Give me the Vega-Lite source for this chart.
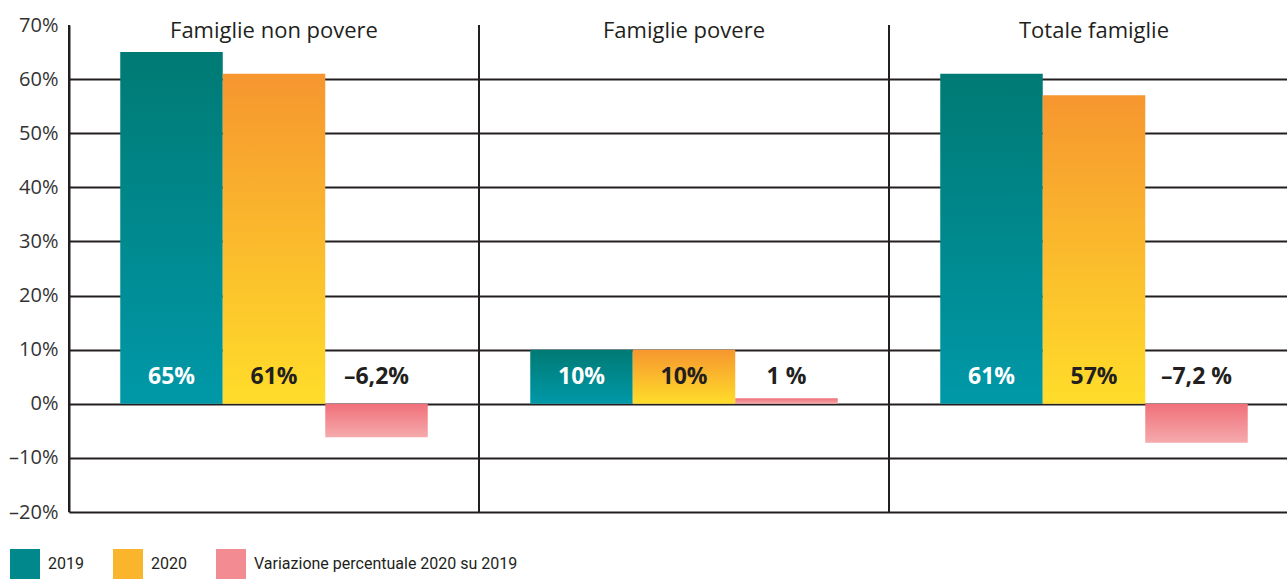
{
  "$schema": "https://vega.github.io/schema/vega-lite/v6.json",
  "width": 1218,
  "height": 487,
  "autosize": {"type": "none"},
  "padding": {"left": 69, "top": 25, "right": 0, "bottom": 69},
  "background": "white",
  "config": {"font": "Open Sans", "view": {"stroke": null}},
  "data": {
    "values": [
      {"gruppo": "Famiglie non povere", "serie": "2019", "valore": 65, "etichetta": "65%"},
      {"gruppo": "Famiglie non povere", "serie": "2020", "valore": 61, "etichetta": "61%"},
      {"gruppo": "Famiglie non povere", "serie": "Variazione percentuale 2020 su 2019", "valore": -6.2, "etichetta": "–6,2%"},
      {"gruppo": "Famiglie povere", "serie": "2019", "valore": 10, "etichetta": "10%"},
      {"gruppo": "Famiglie povere", "serie": "2020", "valore": 10, "etichetta": "10%"},
      {"gruppo": "Famiglie povere", "serie": "Variazione percentuale 2020 su 2019", "valore": 1, "etichetta": "1  %"},
      {"gruppo": "Totale famiglie", "serie": "2019", "valore": 61, "etichetta": "61%"},
      {"gruppo": "Totale famiglie", "serie": "2020", "valore": 57, "etichetta": "57%"},
      {"gruppo": "Totale famiglie", "serie": "Variazione percentuale 2020 su 2019", "valore": -7.2, "etichetta": "–7,2  %"}
    ]
  },
  "encoding": {
    "x": {
      "field": "gruppo",
      "type": "nominal",
      "sort": ["Famiglie non povere", "Famiglie povere", "Totale famiglie"],
      "scale": {"range": [0, 1230], "paddingInner": 0, "paddingOuter": 0},
      "axis": {
        "orient": "top",
        "title": null,
        "domain": false,
        "ticks": false,
        "tickSize": 0,
        "labelPadding": -12,
        "labelBaseline": "alphabetic",
        "labelFontSize": 22,
        "labelLimit": 0,
        "labelColor": "#231F20",
        "labelAngle": 0
      }
    }
  },
  "layer": [
    {
      "mark": {"type": "bar", "opacity": 0},
      "encoding": {
        "xOffset": {
          "field": "serie",
          "type": "nominal",
          "sort": ["2019", "2020", "Variazione percentuale 2020 su 2019"],
          "scale": {"paddingInner": 0, "paddingOuter": 0.5}
        },
        "y": {
          "field": "valore",
          "type": "quantitative",
          "scale": {"domain": [-20, 70], "nice": false},
          "axis": {
            "title": null,
            "values": [-20, -10, 0, 10, 20, 30, 40, 50, 60, 70],
            "labelExpr": "replace(datum.value + '%', '-', '–')",
            "labelFontSize": 20,
            "labelColor": "#333333",
            "labelPadding": 11,
            "ticks": false,
            "domainColor": "#231F20",
            "domainWidth": 2,
            "grid": true,
            "gridColor": "#231F20",
            "gridWidth": 2,
            "gridOpacity": {"condition": {"test": "datum.value === 70", "value": 0}, "value": 1}
          }
        },
        "fill": {
          "field": "serie",
          "type": "nominal",
          "scale": {
            "domain": ["2019", "2020", "Variazione percentuale 2020 su 2019"],
            "range": ["#00888C", "#FAB52D", "#F28C92"]
          },
          "legend": {
            "title": null,
            "orient": "none",
            "legendX": -59,
            "legendY": 524,
            "direction": "horizontal",
            "symbolType": "square",
            "symbolSize": 900,
            "symbolStrokeWidth": 0,
            "symbolOpacity": 1,
            "labelFont": "Roboto",
            "labelFontSize": 16,
            "labelLimit": 0,
            "labelColor": "#231F20",
            "labelOffset": 8,
            "columnPadding": 29,
            "padding": 0
          }
        }
      }
    },
    {
      "mark": {"type": "bar"},
      "encoding": {
        "xOffset": {
          "field": "serie",
          "type": "nominal",
          "sort": ["2019", "2020", "Variazione percentuale 2020 su 2019"],
          "scale": {"paddingInner": 0, "paddingOuter": 0.5}
        },
        "y": {"field": "valore", "type": "quantitative"},
        "fill": {
          "condition": [
            {"test": "datum.serie === '2019'", "value": {"gradient": "linear", "x1": 0, "y1": 0, "x2": 0, "y2": 1, "stops": [{"offset": 0, "color": "#007A74"}, {"offset": 1, "color": "#0098A8"}]}},
            {"test": "datum.serie === '2020'", "value": {"gradient": "linear", "x1": 0, "y1": 0, "x2": 0, "y2": 1, "stops": [{"offset": 0, "color": "#F6962F"}, {"offset": 1, "color": "#FFDD2A"}]}}
          ],
          "value": {"gradient": "linear", "x1": 0, "y1": 0, "x2": 0, "y2": 1, "stops": [{"offset": 0, "color": "#F0707A"}, {"offset": 1, "color": "#F5AAAC"}]}
        }
      }
    },
    {
      "mark": {"type": "text", "fontSize": 23, "fontWeight": "bold", "baseline": "middle", "align": "center"},
      "encoding": {
        "xOffset": {
          "field": "serie",
          "type": "nominal",
          "sort": ["2019", "2020", "Variazione percentuale 2020 su 2019"],
          "scale": {"paddingInner": 0, "paddingOuter": 0.5}
        },
        "y": {"datum": 5, "type": "quantitative"},
        "text": {"field": "etichetta"},
        "color": {"condition": {"test": "datum.serie === '2019'", "value": "white"}, "value": "#231F20"}
      }
    },
    {
      "mark": {"type": "rule", "color": "#231F20", "strokeWidth": 2},
      "transform": [{"filter": "datum.serie === '2019'"}],
      "encoding": {
        "x": {"field": "gruppo", "type": "nominal", "bandPosition": 0, "sort": ["Famiglie non povere", "Famiglie povere", "Totale famiglie"]}
      }
    }
  ]
}
